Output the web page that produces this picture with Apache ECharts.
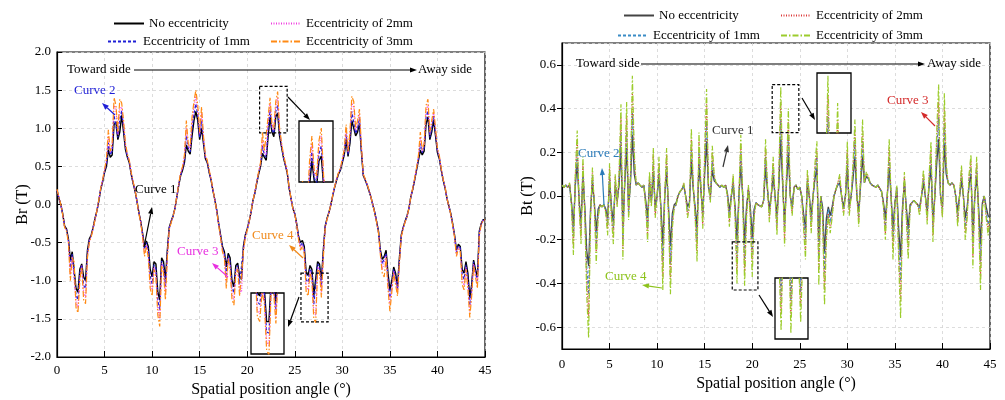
<!DOCTYPE html>
<html>
<head>
<meta charset="utf-8">
<script src="https://cdn.jsdelivr.net/npm/echarts@6/dist/echarts.min.js"></script>
<style>
html,body{margin:0;padding:0;background:#fff;}
#wrap{position:relative;width:1005px;height:400px;overflow:hidden;}
#br{position:absolute;left:0;top:0;width:505px;height:400px;}
#bt{position:absolute;left:505px;top:0;width:500px;height:400px;}
</style>
</head>
<body>
<div id="wrap"><div id="br"></div><div id="bt"></div></div>
<script>
// Sampling step of the spatial position angle (degrees), samples start at 0°
const ANGLE_STEP = 0.2;
const SERIES_NAMES = ['No eccentricity', 'Eccentricity of 1mm', 'Eccentricity of 2mm', 'Eccentricity of 3mm'];
const ANGLE_TICKS = [0, 45, 5];

// Radial flux density Br (T)
const brNoEcc = [
  0.18, 0.08, 0.0, -0.12, -0.28, -0.32, -0.45, -0.73, -0.62, -0.6,
  -1.1, -1.15, -0.85, -0.78, -0.95, -1.0, -0.6, -0.45, -0.4, -0.3,
  -0.18, -0.08, 0.05, 0.2, 0.3, 0.42, 0.5, 0.72, 0.62, 0.65,
  1.05, 1.08, 0.85, 0.95, 1.17, 0.95, 0.72, 0.62, 0.55, 0.4,
  0.28, 0.18, 0.05, -0.1, -0.22, -0.38, -0.55, -0.48, -0.55, -0.85,
  -0.95, -0.75, -0.78, -1.15, -1.25, -0.7, -0.75, -0.98, -0.6, -0.3,
  -0.22, -0.15, -0.05, 0.1, 0.25, 0.38, 0.45, 0.55, 0.78, 0.7,
  0.66, 0.9, 1.1, 1.22, 1.1, 0.85, 1.0, 0.8, 0.6, 0.55,
  0.42, 0.32, 0.18, 0.06, -0.08, -0.25, -0.4, -0.55, -0.62, -0.82,
  -0.64, -0.7, -1.0, -1.08, -0.8, -0.77, -0.95, -0.98, -0.55, -0.4,
  -0.32, -0.22, -0.1, 0.05, 0.15, 0.28, 0.4, 0.5, 0.67, 0.62,
  0.58, 0.9, 1.15, 0.95, 0.89, 1.15, 1.2, 0.9, 0.76, 0.62,
  0.52, 0.42, 0.22, 0.08, -0.05, -0.12, -0.25, -0.42, -0.5, -0.47,
  -0.55, -0.9, -0.93, -0.8, -0.85, -1.2, -1.2, -0.75, -0.78, -0.99,
  -0.6, -0.28, -0.18, -0.1, 0.0, 0.12, 0.23, 0.32, 0.4, 0.45,
  0.55, 0.65, 0.85, 0.63, 0.8, 1.1, 1.12, 0.9, 0.95, 1.06,
  0.7, 0.38, 0.32, 0.26, 0.18, 0.1, 0.0, -0.1, -0.22, -0.35,
  -0.6, -0.72, -0.68, -0.6, -0.9, -1.12, -1.0, -0.82, -0.9, -1.08,
  -0.7, -0.4, -0.3, -0.22, -0.15, -0.05, 0.1, 0.2, 0.32, 0.45,
  0.58, 0.71, 0.65, 0.7, 1.05, 1.15, 0.85, 0.95, 1.11, 0.9,
  0.68, 0.6, 0.45, 0.32, 0.22, 0.08, -0.02, -0.12, -0.25, -0.4,
  -0.6, -0.52, -0.55, -0.85, -0.9, -0.75, -0.9, -1.22, -1.05, -0.73,
  -0.85, -0.95, -0.35, -0.25, -0.2, -0.2
];
const brEcc1 = [
  0.18, 0.09, 0.0, -0.13, -0.29, -0.33, -0.47, -0.83, -0.65, -0.65,
  -1.19, -1.25, -0.9, -0.79, -1.06, -1.1, -0.64, -0.47, -0.41, -0.31,
  -0.19, -0.08, 0.05, 0.21, 0.31, 0.43, 0.53, 0.81, 0.65, 0.7,
  1.17, 1.16, 0.88, 1.11, 1.23, 1.0, 0.75, 0.63, 0.56, 0.41,
  0.29, 0.19, 0.05, -0.1, -0.23, -0.39, -0.59, -0.5, -0.6, -0.94,
  -1.04, -0.79, -0.84, -1.26, -1.38, -0.74, -0.8, -1.07, -0.64, -0.31,
  -0.23, -0.15, -0.05, 0.1, 0.26, 0.39, 0.46, 0.58, 0.9, 0.74,
  0.69, 0.99, 1.19, 1.32, 1.17, 0.88, 1.1, 0.84, 0.62, 0.56,
  0.43, 0.33, 0.18, 0.06, -0.08, -0.26, -0.41, -0.57, -0.65, -0.92,
  -0.67, -0.75, -1.09, -1.16, -0.84, -0.8, -1.04, -1.06, -0.57, -0.41,
  -0.33, -0.22, -0.1, 0.05, 0.15, 0.29, 0.41, 0.52, 0.77, 0.65,
  0.62, 0.99, 1.24, 0.98, 0.93, 1.22, 1.3, 0.94, 0.78, 0.63,
  0.53, 0.43, 0.22, 0.08, -0.05, -0.12, -0.26, -0.43, -0.54, -0.5,
  -0.59, -0.99, -1.02, -0.84, -0.9, -1.31, -1.32, -0.78, -0.81, -1.07,
  -0.64, -0.29, -0.18, -0.1, 0.0, 0.12, 0.23, 0.33, 0.41, 0.46,
  0.57, 0.67, 0.92, 0.65, 0.85, 1.22, 1.2, 0.93, 1.0, 1.13,
  0.73, 0.39, 0.33, 0.26, 0.18, 0.1, 0.0, -0.1, -0.22, -0.36,
  -0.62, -0.78, -0.78, -0.64, -0.97, -1.22, -1.05, -0.85, -0.95, -1.12,
  -0.73, -0.41, -0.31, -0.22, -0.15, -0.05, 0.1, 0.2, 0.33, 0.46,
  0.6, 0.8, 0.68, 0.74, 1.14, 1.23, 0.88, 1.0, 1.16, 0.93,
  0.7, 0.61, 0.46, 0.32, 0.22, 0.08, -0.02, -0.12, -0.26, -0.41,
  -0.63, -0.54, -0.57, -0.92, -0.98, -0.79, -0.97, -1.32, -1.1, -0.75,
  -0.89, -1.0, -0.37, -0.26, -0.2, -0.2
];
const brEcc2 = [
  0.19, 0.09, 0.0, -0.13, -0.29, -0.34, -0.48, -0.92, -0.68, -0.7,
  -1.28, -1.35, -0.95, -0.8, -1.15, -1.22, -0.67, -0.48, -0.41, -0.31,
  -0.19, -0.08, 0.06, 0.21, 0.32, 0.45, 0.57, 0.9, 0.68, 0.75,
  1.3, 1.25, 0.92, 1.25, 1.28, 1.05, 0.78, 0.65, 0.57, 0.41,
  0.29, 0.19, 0.05, -0.11, -0.23, -0.41, -0.64, -0.53, -0.65, -1.03,
  -1.12, -0.82, -0.9, -1.36, -1.5, -0.77, -0.85, -1.17, -0.67, -0.32,
  -0.23, -0.16, -0.05, 0.1, 0.26, 0.41, 0.48, 0.62, 1.0, 0.77,
  0.72, 1.07, 1.28, 1.42, 1.24, 0.92, 1.2, 0.87, 0.63, 0.57,
  0.44, 0.33, 0.19, 0.06, -0.09, -0.26, -0.43, -0.6, -0.68, -1.02,
  -0.7, -0.8, -1.17, -1.25, -0.87, -0.82, -1.12, -1.15, -0.6, -0.42,
  -0.33, -0.23, -0.1, 0.05, 0.16, 0.29, 0.42, 0.53, 0.86, 0.68,
  0.65, 1.07, 1.32, 1.02, 0.97, 1.29, 1.4, 0.97, 0.8, 0.65,
  0.54, 0.43, 0.23, 0.08, -0.05, -0.13, -0.26, -0.45, -0.57, -0.53,
  -0.62, -1.08, -1.12, -0.87, -0.95, -1.41, -1.45, -0.82, -0.85, -1.15,
  -0.67, -0.29, -0.19, -0.1, 0.0, 0.13, 0.24, 0.33, 0.41, 0.47,
  0.58, 0.7, 0.99, 0.68, 0.9, 1.33, 1.28, 0.97, 1.05, 1.19,
  0.76, 0.39, 0.33, 0.27, 0.19, 0.1, 0.0, -0.11, -0.23, -0.36,
  -0.64, -0.85, -0.87, -0.67, -1.04, -1.31, -1.1, -0.87, -1.0, -1.16,
  -0.75, -0.41, -0.31, -0.23, -0.16, -0.05, 0.1, 0.21, 0.33, 0.47,
  0.62, 0.88, 0.7, 0.77, 1.22, 1.31, 0.92, 1.06, 1.21, 0.97,
  0.72, 0.63, 0.46, 0.33, 0.23, 0.08, -0.02, -0.13, -0.26, -0.42,
  -0.66, -0.56, -0.6, -0.99, -1.06, -0.82, -1.04, -1.41, -1.16, -0.78,
  -0.92, -1.06, -0.39, -0.26, -0.21, -0.2
];
const brEcc3 = [
  0.2, 0.1, 0.0, -0.14, -0.3, -0.35, -0.5, -1.0, -0.7, -0.75,
  -1.35, -1.42, -1.0, -0.82, -1.25, -1.3, -0.7, -0.5, -0.42, -0.32,
  -0.2, -0.08, 0.06, 0.22, 0.33, 0.46, 0.6, 0.98, 0.7, 0.8,
  1.4, 1.3, 0.95, 1.38, 1.33, 1.1, 0.8, 0.66, 0.58, 0.42,
  0.3, 0.2, 0.05, -0.11, -0.24, -0.42, -0.68, -0.55, -0.7, -1.1,
  -1.2, -0.85, -0.95, -1.45, -1.6, -0.8, -0.9, -1.25, -0.7, -0.33,
  -0.24, -0.16, -0.05, 0.11, 0.27, 0.42, 0.5, 0.65, 1.1, 0.8,
  0.75, 1.15, 1.35, 1.5, 1.3, 0.95, 1.28, 0.9, 0.65, 0.58,
  0.45, 0.34, 0.19, 0.06, -0.09, -0.27, -0.44, -0.62, -0.7, -1.1,
  -0.72, -0.85, -1.25, -1.32, -0.9, -0.85, -1.2, -1.22, -0.62, -0.43,
  -0.34, -0.23, -0.1, 0.05, 0.16, 0.3, 0.43, 0.55, 0.95, 0.7,
  0.68, 1.15, 1.4, 1.05, 1.0, 1.35, 1.48, 1.0, 0.82, 0.66,
  0.55, 0.44, 0.23, 0.08, -0.05, -0.13, -0.27, -0.46, -0.6, -0.55,
  -0.65, -1.15, -1.2, -0.9, -1.0, -1.5, -1.55, -0.85, -0.88, -1.22,
  -0.7, -0.3, -0.19, -0.1, 0.0, 0.13, 0.24, 0.34, 0.42, 0.48,
  0.6, 0.72, 1.05, 0.7, 0.95, 1.42, 1.35, 1.0, 1.1, 1.25,
  0.78, 0.4, 0.34, 0.27, 0.19, 0.1, 0.0, -0.11, -0.23, -0.37,
  -0.66, -0.9, -0.95, -0.7, -1.1, -1.4, -1.15, -0.9, -1.05, -1.2,
  -0.78, -0.42, -0.32, -0.23, -0.16, -0.05, 0.1, 0.21, 0.34, 0.48,
  0.64, 0.95, 0.72, 0.8, 1.3, 1.38, 0.95, 1.1, 1.25, 1.0,
  0.74, 0.64, 0.47, 0.33, 0.23, 0.08, -0.02, -0.13, -0.27, -0.43,
  -0.68, -0.58, -0.62, -1.05, -1.12, -0.85, -1.1, -1.48, -1.2, -0.8,
  -0.95, -1.1, -0.4, -0.27, -0.21, -0.2
];

// Tangential flux density Bt (T)
const btNoEcc = [
  0.05, 0.04, 0.05, 0.04, 0.05, -0.03, -0.14, 0.05, 0.15, -0.02,
  -0.12, 0.09, -0.05, -0.25, -0.32, -0.06, 0.06, -0.03, -0.16, -0.06,
  -0.04, -0.05, -0.04, -0.06, -0.1, 0.07, -0.05, -0.12, 0.05, -0.02,
  0.05, 0.22, -0.14, 0.06, 0.22, -0.05, 0.06, 0.28, 0.1, 0.05,
  0.06, 0.05, 0.04, 0.05, -0.02, -0.1, 0.06, -0.02, 0.11, -0.05,
  0.0, 0.09, -0.05, -0.22, 0.0, 0.11, -0.05, -0.23, -0.08, -0.04,
  -0.03, 0.0, 0.02, 0.03, 0.05, 0.0, -0.05, -0.03, 0.16, 0.03,
  -0.05, -0.15, 0.15, 0.03, -0.08, 0.1, 0.25, 0.04, 0.0, 0.12,
  0.07, 0.06, 0.05, 0.04, 0.05, 0.04, 0.05, 0.01, -0.07, 0.0,
  0.05, -0.05, -0.2, 0.0, 0.14, 0.0, -0.21, -0.05, 0.03, -0.05,
  -0.19, -0.06, -0.03, -0.04, -0.04, -0.05, -0.02, 0.13, 0.03, -0.06,
  0.0, 0.09, 0.0, -0.09, 0.05, 0.26, 0.05, -0.12, 0.05, 0.2,
  0.0, -0.05, 0.04, 0.05, 0.03, 0.04, 0.0, -0.08, -0.15, 0.06,
  0.0, -0.09, 0.0, 0.08, 0.13, -0.21, 0.0, -0.05, -0.26, -0.1,
  -0.05, -0.09, -0.05, 0.0, 0.03, 0.05, 0.06, 0.0, -0.05, 0.0,
  0.13, -0.05, 0.0, 0.08, 0.18, 0.0, -0.07, 0.05, 0.18, 0.06,
  0.09, 0.08, 0.06, 0.05, 0.05, 0.04, 0.05, 0.05, 0.02, -0.03,
  -0.1, 0.0, 0.13, 0.0, -0.15, -0.03, 0.03, -0.15, -0.28, -0.05,
  0.06, -0.05, -0.15, -0.04, -0.03, -0.02, -0.03, -0.04, -0.05, 0.0,
  0.06, 0.0, -0.07, 0.05, 0.13, -0.11, 0.0, 0.15, 0.26, 0.0,
  -0.05, 0.24, 0.1, 0.06, 0.05, 0.06, 0.05, 0.0, -0.07, 0.0,
  0.07, 0.0, -0.1, -0.05, 0.05, 0.1, -0.17, 0.0, 0.09, -0.05,
  -0.22, -0.03, 0.0, -0.05, -0.09, -0.1
];
const btEcc1 = [
  0.05, 0.04, 0.05, 0.04, 0.05, -0.04, -0.19, 0.07, 0.21, -0.03,
  -0.15, 0.13, -0.07, -0.32, -0.45, -0.07, 0.09, -0.04, -0.22, -0.07,
  -0.04, -0.05, -0.04, -0.06, -0.13, 0.1, -0.07, -0.15, 0.07, -0.03,
  0.07, 0.29, -0.2, 0.07, 0.3, -0.08, 0.07, 0.38, 0.14, 0.05,
  0.06, 0.05, 0.04, 0.05, -0.03, -0.15, 0.08, -0.03, 0.15, -0.07,
  0.0, 0.13, -0.07, -0.3, 0.0, 0.15, -0.07, -0.31, -0.1, -0.05,
  -0.04, 0.0, 0.02, 0.03, 0.05, 0.0, -0.07, -0.04, 0.22, 0.04,
  -0.07, -0.21, 0.2, 0.04, -0.1, 0.14, 0.34, 0.05, -0.02, 0.16,
  0.08, 0.06, 0.05, 0.04, 0.05, 0.04, 0.05, 0.0, -0.1, 0.0,
  0.07, -0.07, -0.28, 0.0, 0.2, 0.0, -0.29, -0.07, 0.04, -0.07,
  -0.26, -0.07, -0.03, -0.04, -0.04, -0.05, -0.02, 0.18, 0.04, -0.08,
  0.0, 0.13, 0.0, -0.13, 0.07, 0.35, 0.07, -0.16, 0.07, 0.28,
  0.0, -0.06, 0.04, 0.05, 0.03, 0.04, 0.0, -0.1, -0.2, 0.08,
  0.0, -0.12, 0.0, 0.1, 0.18, -0.29, 0.0, -0.07, -0.35, -0.14,
  -0.06, -0.12, -0.07, 0.0, 0.03, 0.05, 0.07, 0.0, -0.06, 0.0,
  0.18, -0.06, 0.0, 0.1, 0.25, 0.0, -0.1, 0.07, 0.25, 0.06,
  0.1, 0.08, 0.06, 0.05, 0.05, 0.04, 0.05, 0.05, 0.02, -0.04,
  -0.14, 0.0, 0.18, 0.0, -0.2, -0.04, 0.04, -0.21, -0.39, -0.07,
  0.08, -0.07, -0.2, -0.05, -0.03, -0.02, -0.03, -0.04, -0.06, 0.0,
  0.08, 0.0, -0.09, 0.07, 0.18, -0.15, 0.0, 0.21, 0.36, 0.0,
  -0.07, 0.33, 0.11, 0.06, 0.05, 0.06, 0.05, 0.0, -0.1, 0.0,
  0.1, 0.0, -0.14, -0.07, 0.07, 0.13, -0.23, 0.0, 0.13, -0.07,
  -0.3, -0.04, 0.0, -0.07, -0.13, -0.1
];
const btEcc2 = [
  0.05, 0.04, 0.05, 0.04, 0.06, -0.04, -0.23, 0.09, 0.26, -0.04,
  -0.19, 0.15, -0.09, -0.38, -0.55, -0.09, 0.11, -0.04, -0.26, -0.09,
  -0.04, -0.05, -0.04, -0.07, -0.15, 0.13, -0.09, -0.19, 0.09, -0.04,
  0.09, 0.36, -0.25, 0.09, 0.37, -0.09, 0.09, 0.47, 0.17, 0.05,
  0.06, 0.05, 0.04, 0.05, -0.04, -0.18, 0.09, -0.04, 0.19, -0.09,
  0.0, 0.15, -0.09, -0.37, 0.0, 0.19, -0.09, -0.38, -0.13, -0.05,
  -0.04, 0.0, 0.02, 0.03, 0.06, 0.0, -0.09, -0.05, 0.26, 0.05,
  -0.09, -0.26, 0.25, 0.05, -0.13, 0.17, 0.42, 0.05, -0.02, 0.2,
  0.09, 0.06, 0.05, 0.04, 0.05, 0.04, 0.05, 0.0, -0.12, 0.0,
  0.09, -0.09, -0.34, 0.0, 0.24, 0.0, -0.35, -0.09, 0.04, -0.09,
  -0.31, -0.09, -0.03, -0.04, -0.04, -0.05, -0.02, 0.22, 0.04, -0.1,
  0.0, 0.15, 0.0, -0.15, 0.09, 0.43, 0.09, -0.2, 0.09, 0.34,
  0.0, -0.08, 0.04, 0.05, 0.03, 0.04, 0.0, -0.13, -0.25, 0.1,
  0.0, -0.15, 0.0, 0.13, 0.21, -0.35, 0.0, -0.09, -0.43, -0.17,
  -0.08, -0.15, -0.09, 0.0, 0.03, 0.06, 0.09, 0.0, -0.08, 0.0,
  0.21, -0.08, 0.0, 0.13, 0.3, 0.0, -0.12, 0.09, 0.3, 0.06,
  0.1, 0.09, 0.06, 0.05, 0.05, 0.04, 0.05, 0.05, 0.02, -0.04,
  -0.17, 0.0, 0.22, 0.0, -0.25, -0.04, 0.04, -0.26, -0.48, -0.09,
  0.09, -0.09, -0.25, -0.05, -0.03, -0.02, -0.03, -0.04, -0.08, 0.0,
  0.1, 0.0, -0.11, 0.09, 0.21, -0.18, 0.0, 0.26, 0.43, 0.0,
  -0.09, 0.4, 0.13, 0.06, 0.05, 0.06, 0.05, 0.0, -0.12, 0.0,
  0.12, 0.0, -0.17, -0.09, 0.09, 0.16, -0.28, 0.0, 0.15, -0.09,
  -0.37, -0.05, 0.0, -0.09, -0.15, -0.1
];
const btEcc3 = [
  0.05, 0.04, 0.05, 0.04, 0.06, -0.05, -0.27, 0.1, 0.3, -0.05,
  -0.22, 0.18, -0.1, -0.45, -0.65, -0.1, 0.13, -0.05, -0.31, -0.1,
  -0.04, -0.05, -0.04, -0.08, -0.18, 0.15, -0.1, -0.22, 0.1, -0.05,
  0.1, 0.42, -0.29, 0.1, 0.43, -0.11, 0.1, 0.55, 0.2, 0.05,
  0.06, 0.05, 0.04, 0.05, -0.05, -0.21, 0.11, -0.05, 0.22, -0.1,
  0.0, 0.18, -0.1, -0.43, 0.0, 0.22, -0.1, -0.45, -0.15, -0.05,
  -0.04, 0.0, 0.02, 0.03, 0.06, 0.0, -0.1, -0.05, 0.31, 0.05,
  -0.1, -0.3, 0.29, 0.05, -0.15, 0.2, 0.49, 0.05, -0.03, 0.23,
  0.1, 0.06, 0.05, 0.04, 0.05, 0.04, 0.05, 0.0, -0.14, 0.0,
  0.1, -0.1, -0.4, 0.0, 0.28, 0.0, -0.41, -0.1, 0.05, -0.1,
  -0.37, -0.1, -0.03, -0.04, -0.04, -0.05, -0.02, 0.26, 0.05, -0.12,
  0.0, 0.18, 0.0, -0.18, 0.1, 0.5, 0.1, -0.23, 0.1, 0.4,
  0.0, -0.09, 0.04, 0.05, 0.03, 0.04, 0.0, -0.15, -0.29, 0.12,
  0.0, -0.17, 0.0, 0.15, 0.25, -0.41, 0.0, -0.1, -0.5, -0.2,
  -0.09, -0.17, -0.1, 0.0, 0.03, 0.06, 0.1, 0.0, -0.09, 0.0,
  0.25, -0.09, 0.0, 0.15, 0.35, 0.0, -0.14, 0.1, 0.35, 0.06,
  0.11, 0.09, 0.06, 0.05, 0.05, 0.04, 0.05, 0.05, 0.02, -0.05,
  -0.2, 0.0, 0.26, 0.0, -0.29, -0.05, 0.05, -0.3, -0.56, -0.1,
  0.11, -0.1, -0.29, -0.05, -0.03, -0.02, -0.03, -0.04, -0.09, 0.0,
  0.12, 0.0, -0.13, 0.1, 0.25, -0.21, 0.0, 0.3, 0.51, 0.0,
  -0.1, 0.47, 0.15, 0.06, 0.05, 0.06, 0.05, 0.0, -0.14, 0.0,
  0.14, 0.0, -0.2, -0.1, 0.1, 0.19, -0.33, 0.0, 0.18, -0.1,
  -0.43, -0.06, 0.0, -0.1, -0.18, -0.1
];

const FONT = '"Liberation Serif", "Times New Roman", Times, serif';
const DASH_DOT = [6, 2, 1.5, 2];

function toPoints(values) {
  return values.map((v, i) => [Math.round(i * ANGLE_STEP * 10) / 10, v]);
}

function arrowParts(x1, y1, x2, y2, color) {
  const a = Math.atan2(y2 - y1, x2 - x1);
  const len = 7, half = 2.6;
  const bx = x2 - len * Math.cos(a), by = y2 - len * Math.sin(a);
  const nx = -Math.sin(a) * half, ny = Math.cos(a) * half;
  return [
    { type: 'line', z: 20, silent: true, shape: { x1: x1, y1: y1, x2: bx, y2: by }, style: { stroke: color, lineWidth: 1.2 } },
    { type: 'polygon', z: 20, silent: true, shape: { points: [[x2, y2], [bx + nx, by + ny], [bx - nx, by - ny]] }, style: { fill: color } }
  ];
}

function buildChart(dom, cfg) {
  const chart = echarts.init(dom, null, { renderer: 'canvas' });
  const g = cfg.grid;
  const grids = [{
    left: g.left, top: g.top, width: g.width, height: g.height,
    show: true, borderColor: '#000', borderWidth: 1.2, backgroundColor: 'transparent',
    containLabel: false, outerBoundsMode: 'none'
  }];
  const xAxes = [{
    gridIndex: 0, type: 'value', min: ANGLE_TICKS[0], max: ANGLE_TICKS[1], interval: ANGLE_TICKS[2],
    axisLine: { onZero: false, lineStyle: { color: '#000', width: 1.2 } },
    axisTick: { inside: true, length: 6, lineStyle: { color: '#000', width: 1 } },
    axisLabel: { color: '#000', fontFamily: FONT, fontSize: 13, margin: cfg.xLabelMargin },
    splitLine: { show: true, lineStyle: { type: [3, 3], color: '#d4d4d4', width: 0.8 } },
    name: 'Spatial position angle (°)', nameLocation: 'middle', nameGap: cfg.xNameGap,
    nameTextStyle: { fontFamily: FONT, fontSize: 16, color: '#000' }
  }];
  const yAxis = {
    gridIndex: 0, type: 'value', min: cfg.y.min, max: cfg.y.max,
    axisLine: { show: true, onZero: false, lineStyle: { color: '#000', width: 1.2 } },
    axisTick: { show: true, inside: cfg.y.tickInside, length: 5, lineStyle: { color: '#000', width: 1 } },
    axisLabel: {
      color: '#000', fontFamily: FONT, fontSize: 13, margin: 6,
      showMinLabel: cfg.y.showEnds, showMaxLabel: cfg.y.showEnds,
      formatter: v => v.toFixed(1)
    },
    splitLine: { show: true, lineStyle: { type: [3, 3], color: '#d4d4d4', width: 0.8 } },
    name: cfg.y.name, nameLocation: 'middle', nameGap: 26, nameMoveOverlap: false,
    nameTextStyle: { fontFamily: FONT, fontSize: 16, color: '#000' }
  };
  if (cfg.y.interval) yAxis.interval = cfg.y.interval;
  if (cfg.y.splitNumber) yAxis.splitNumber = cfg.y.splitNumber;
  const yAxes = [yAxis];

  const series = [];
  const addSeries = (gi, z) => {
    cfg.drawOrder.forEach(k => {
      const s = cfg.series[k];
      series.push({
        type: 'line', name: SERIES_NAMES[k], xAxisIndex: gi, yAxisIndex: gi,
        data: toPoints(s.data), showSymbol: false, symbol: 'none', animation: false,
        clip: true, z: z,
        lineStyle: { color: s.color, width: s.width || 1.2, type: s.type },
        itemStyle: { color: s.color }
      });
    });
  };
  addSeries(0, 2);
  cfg.insets.forEach((ins, i) => {
    const gi = i + 1;
    grids.push({
      left: ins.box[0], top: ins.box[1], width: ins.box[2], height: ins.box[3],
      show: true, backgroundColor: '#fff', borderColor: '#000', borderWidth: 1.3, z: 6,
      containLabel: false, outerBoundsMode: 'none'
    });
    xAxes.push({ gridIndex: gi, type: 'value', min: ins.x[0], max: ins.x[1], show: false });
    yAxes.push({ gridIndex: gi, type: 'value', min: ins.y[0], max: ins.y[1], show: false });
    addSeries(gi, 8);
  });

  const legends = cfg.legend.map(l => ({
    data: [l.name], left: l.left, top: l.top, padding: 0,
    itemWidth: 30, itemHeight: 14, itemGap: 5, selectedMode: false,
    itemStyle: { opacity: 0 },
    textStyle: { fontFamily: FONT, fontSize: 13, color: '#000' }
  }));

  chart.setOption({
    backgroundColor: '#fff', animation: false,
    grid: grids, xAxis: xAxes, yAxis: yAxes, legend: legends, series: series
  });

  // Annotations: direction arrow, curve labels, zoom boxes and their leaders
  const elements = [];
  cfg.texts.forEach(t => {
    elements.push({
      type: 'text', x: t.x, y: t.y, z: 20, silent: true,
      style: { text: t.text, fill: t.color, font: '13px ' + FONT, verticalAlign: 'middle', align: 'left' }
    });
  });
  cfg.arrows.forEach(a => elements.push(...arrowParts(a[0], a[1], a[2], a[3], a[4])));
  cfg.insets.forEach(ins => {
    const p0 = chart.convertToPixel({ gridIndex: 0 }, [ins.x[0], ins.y[1]]);
    const p1 = chart.convertToPixel({ gridIndex: 0 }, [ins.x[1], ins.y[0]]);
    elements.push({
      type: 'rect', z: 20, silent: true,
      shape: { x: p0[0], y: p0[1], width: p1[0] - p0[0], height: p1[1] - p0[1] },
      style: { fill: 'none', stroke: '#000', lineWidth: 1.2, lineDash: [3, 2] }
    });
  });
  chart.setOption({ graphic: { elements: elements } });
  return chart;
}

buildChart(document.getElementById('br'), {
  grid: { left: 57, top: 52, width: 428, height: 305 },
  xLabelMargin: 7, xNameGap: 22,
  y: { min: -2, max: 2, interval: 0.5, tickInside: true, showEnds: true, name: 'Br (T)' },
  drawOrder: [0, 1, 2, 3],
  series: [
    { data: brNoEcc, color: '#000000', type: 'solid', width: 1.4 },
    { data: brEcc1, color: '#1f1fd6', type: [3, 2] },
    { data: brEcc2, color: '#f03ce0', type: [1, 1.5] },
    { data: brEcc3, color: '#ff8a14', type: DASH_DOT }
  ],
  legend: [
    { name: SERIES_NAMES[0], left: 113, top: 17 },
    { name: SERIES_NAMES[2], left: 270, top: 17 },
    { name: SERIES_NAMES[1], left: 107, top: 35 },
    { name: SERIES_NAMES[3], left: 270, top: 35 }
  ],
  insets: [
    { x: [21.3, 24.2], y: [0.94, 1.55], box: [299, 121, 34, 61] },
    { x: [25.65, 28.5], y: [-1.54, -0.9], box: [251, 293, 33, 61] }
  ],
  texts: [
    { text: 'Toward side', x: 67, y: 70, color: '#000' },
    { text: 'Away side', x: 418, y: 70, color: '#000' },
    { text: 'Curve 2', x: 74, y: 91, color: '#1f1fd6' },
    { text: 'Curve 1', x: 135, y: 190, color: '#000' },
    { text: 'Curve 3', x: 177, y: 252, color: '#e830e0' },
    { text: 'Curve 4', x: 252, y: 236, color: '#f08a1c' }
  ],
  arrows: [
    [134, 70, 417, 70, '#000'],
    [115, 115, 102, 103, '#1f1fd6'],
    [144, 247, 152, 207, '#000'],
    [228, 277, 212, 263, '#e830e0'],
    [303, 258, 289, 245, '#f08a1c'],
    [288, 97, 310, 120, '#000'],
    [299, 297, 288, 327, '#000']
  ]
});

buildChart(document.getElementById('bt'), {
  grid: { left: 57, top: 43, width: 428, height: 306 },
  xLabelMargin: 9, xNameGap: 25,
  y: { min: -0.7, max: 0.7, splitNumber: 7, tickInside: false, showEnds: false, name: 'Bt (T)' },
  drawOrder: [0, 1, 2, 3],
  series: [
    { data: btNoEcc, color: '#444444', type: 'solid', width: 1.3 },
    { data: btEcc1, color: '#3a8cc6', type: [3, 2] },
    { data: btEcc2, color: '#dc3a3a', type: [1, 1.5] },
    { data: btEcc3, color: '#9ccc2c', type: DASH_DOT }
  ],
  legend: [
    { name: SERIES_NAMES[0], left: 118, top: 9 },
    { name: SERIES_NAMES[2], left: 275, top: 9 },
    { name: SERIES_NAMES[1], left: 112, top: 29 },
    { name: SERIES_NAMES[3], left: 275, top: 29 }
  ],
  insets: [
    { x: [22.1, 24.9], y: [0.29, 0.51], box: [312, 73, 34, 60] },
    { x: [17.9, 20.6], y: [-0.43, -0.21], box: [270, 278, 33, 61] }
  ],
  texts: [
    { text: 'Toward side', x: 71, y: 64, color: '#000' },
    { text: 'Away side', x: 422, y: 64, color: '#000' },
    { text: 'Curve 2', x: 73, y: 154, color: '#2b7bb9' },
    { text: 'Curve 1', x: 207, y: 131, color: '#333' },
    { text: 'Curve 3', x: 382, y: 101, color: '#d42a2a' },
    { text: 'Curve 4', x: 100, y: 277, color: '#8cc21a' }
  ],
  arrows: [
    [136, 64, 420, 64, '#000'],
    [99, 205, 97, 168, '#2b7bb9'],
    [218, 167, 223, 145, '#333'],
    [430, 126, 416, 112, '#d42a2a'],
    [157, 288, 137, 285, '#8cc21a'],
    [297, 98, 310, 120, '#000'],
    [254, 295, 268, 317, '#000']
  ]
});
</script>
</body>
</html>
